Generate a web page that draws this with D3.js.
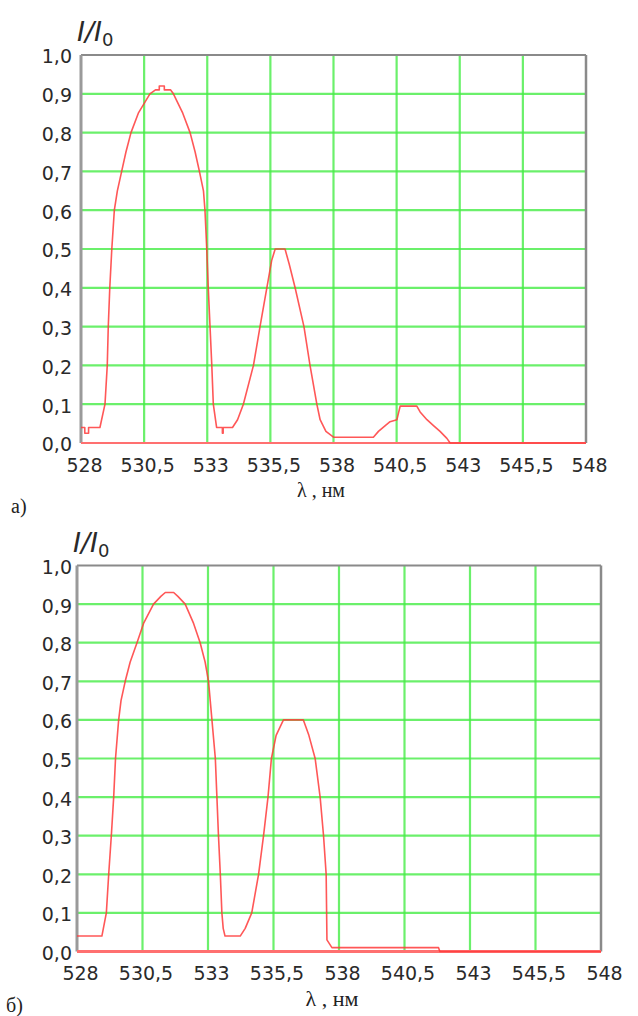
<!DOCTYPE html>
<html>
<head>
<meta charset="utf-8">
<script src="https://cdn.jsdelivr.net/npm/d3@7"></script>
<style>
  html, body { margin: 0; padding: 0; background: #fff; }
  svg { display: block; }
</style>
</head>
<body>
<svg id="canvas" width="638" height="1016"></svg>
<script>
// Spectres I/I0 en fonction de la longueur d'onde (deux cas : а et б)

// Graduations communes
let xTicks = [528, 530.5, 533, 535.5, 538, 540.5, 543, 545.5, 548]
let xTickLabels = ['528', '530,5', '533', '535,5', '538', '540,5', '543', '545,5', '548']
let yTicks = [0, 0.1, 0.2, 0.3, 0.4, 0.5, 0.6, 0.7, 0.8, 0.9, 1.0]
let yTickLabels = ['0,0', '0,1', '0,2', '0,3', '0,4', '0,5', '0,6', '0,7', '0,8', '0,9', '1,0']

// Courbe а)
let lambdaA = [528.0, 528.15, 528.15, 528.3, 528.3, 528.75, 528.95, 529.04, 529.08, 529.14,
  529.22, 529.32, 529.44, 529.61, 529.78, 529.98, 530.27, 530.73, 530.95, 531.1,
  531.1, 531.3, 531.3, 531.55, 531.66, 532.03, 532.32, 532.52, 532.69, 532.85,
  532.91, 532.98, 533.04, 533.11, 533.18, 533.24, 533.37, 533.6, 533.6, 533.63,
  533.63, 534.0, 534.2, 534.43, 534.83, 535.09, 535.36, 535.55, 535.69, 536.08,
  536.25, 536.48, 536.83, 537.07, 537.34, 537.47, 537.7, 538.0, 539.58, 539.78,
  540.05, 540.24, 540.51, 540.64, 541.3, 541.43, 541.7, 541.96, 542.22, 542.49,
  542.62, 548.0]
let intensityA = [0.04, 0.04, 0.025, 0.025, 0.04, 0.04, 0.1, 0.2, 0.3, 0.4,
  0.5, 0.6, 0.65, 0.7, 0.75, 0.8, 0.85, 0.9, 0.91, 0.91,
  0.92, 0.92, 0.91, 0.91, 0.9, 0.85, 0.8, 0.75, 0.7, 0.65,
  0.6, 0.5, 0.4, 0.3, 0.2, 0.1, 0.04, 0.04, 0.025, 0.025,
  0.04, 0.04, 0.06, 0.1, 0.2, 0.3, 0.4, 0.47, 0.5, 0.5,
  0.46, 0.4, 0.3, 0.2, 0.1, 0.06, 0.03, 0.015, 0.015, 0.03,
  0.045, 0.055, 0.06, 0.095, 0.095, 0.08, 0.06, 0.045, 0.03, 0.012,
  0.0, 0.0]

// Courbe б)
let lambdaB = [528.0, 528.95, 529.12, 529.21, 529.31, 529.4, 529.47, 529.59, 529.68, 529.84,
  530.03, 530.29, 530.54, 530.92, 531.2, 531.37, 531.69, 531.85, 532.13, 532.45,
  532.7, 532.89, 533.02, 533.15, 533.28, 533.34, 533.4, 533.47, 533.53, 533.58,
  533.65, 534.23, 534.42, 534.67, 534.93, 535.12, 535.29, 535.42, 535.6, 535.88,
  536.64, 536.85, 537.09, 537.28, 537.41, 537.51, 537.54, 537.73, 541.8, 541.85,
  548.0]
let intensityB = [0.04, 0.04, 0.1, 0.2, 0.3, 0.4, 0.5, 0.6, 0.65, 0.7,
  0.75, 0.8, 0.85, 0.9, 0.92, 0.93, 0.93, 0.92, 0.9, 0.85,
  0.8, 0.75, 0.7, 0.6, 0.5, 0.4, 0.3, 0.2, 0.1, 0.06,
  0.04, 0.04, 0.06, 0.1, 0.2, 0.3, 0.4, 0.5, 0.56, 0.6,
  0.6, 0.56, 0.5, 0.4, 0.3, 0.2, 0.03, 0.01, 0.01, 0.0,
  0.0]

let canvas = d3.select('#canvas')

// Dessiner un panneau
let dessinerPanneau = (p) => {
  let x = d3.scaleLinear().domain([528, 548]).range([p.left, p.right])
  let y = d3.scaleLinear().domain([0, 1]).range([p.bottom, p.top])
  let g = canvas.append('g')

  // grille verte
  g.selectAll('.gx').data(xTicks.slice(1, -1)).enter().append('line')
    .attr('x1', d => x(d)).attr('x2', d => x(d))
    .attr('y1', p.top).attr('y2', p.bottom)
    .attr('stroke', '#46ec46').attr('stroke-width', 2.2).attr('stroke-opacity', 0.8)
  g.selectAll('.gy').data(yTicks.slice(1, -1)).enter().append('line')
    .attr('x1', p.left).attr('x2', p.right)
    .attr('y1', d => y(d)).attr('y2', d => y(d))
    .attr('stroke', '#46ec46').attr('stroke-width', 2.2).attr('stroke-opacity', 0.8)

  // cadre gris
  g.append('line').attr('x1', p.left).attr('x2', p.right).attr('y1', p.top).attr('y2', p.top)
    .attr('stroke', '#8a8a8a').attr('stroke-width', 2)
  g.append('line').attr('x1', p.right).attr('x2', p.right).attr('y1', p.top).attr('y2', p.bottom)
    .attr('stroke', '#8a8a8a').attr('stroke-width', 2.5)
  g.append('line').attr('x1', p.left).attr('x2', p.left).attr('y1', p.top).attr('y2', p.bottom)
    .attr('stroke', '#9a9a9a').attr('stroke-width', 3)
  g.append('line').attr('x1', p.left).attr('x2', p.right).attr('y1', p.bottom).attr('y2', p.bottom)
    .attr('stroke', '#ff7070').attr('stroke-width', p.baseWidth)

  // courbe
  let points = p.lambda.map((l, i) => [l, p.intensity[i]])
  g.append('path')
    .datum(points)
    .attr('d', d3.line().x(d => x(d[0])).y(d => y(d[1])))
    .attr('fill', 'none')
    .attr('stroke', '#ff3a3a')
    .attr('stroke-opacity', 0.85)
    .attr('stroke-width', 1.6)
    .attr('stroke-linejoin', 'round')

  // axes (textes seulement)
  let axeY = g.append('g')
    .attr('transform', `translate(${p.left - p.yGap},0)`)
    .call(d3.axisLeft(y).tickValues(yTicks).tickFormat((d, i) => yTickLabels[i]).tickSize(0).tickPadding(0))
  axeY.select('.domain').remove()
  axeY.selectAll('text').attr('dy', '0.42em')

  let axeX = g.append('g')
    .attr('transform', `translate(0,${p.bottom})`)
    .call(d3.axisBottom(x).tickValues(xTicks).tickFormat((d, i) => xTickLabels[i]).tickSize(0).tickPadding(0))
  axeX.select('.domain').remove()
  axeX.selectAll('text').attr('y', p.xLabelY).attr('dy', 0).attr('dx', 3)

  canvas.selectAll('.tick text')
    .attr('font-family', '"DejaVu Sans", Verdana, sans-serif')
    .attr('font-size', 19)
    .attr('fill', '#2a2a2a')

  // titre de l'axe Y
  let titre = g.append('text')
    .attr('x', p.left - 4).attr('y', p.top - 14)
    .attr('font-family', '"DejaVu Sans", sans-serif')
    .attr('font-size', 27).attr('font-style', 'italic').attr('fill', '#2a2a2a')
    .text('I/I')
  titre.append('tspan').attr('dy', 5).attr('font-size', 18).attr('font-style', 'normal').text('0')

  // titre de l'axe X
  g.append('text')
    .attr('x', p.lambdaX).attr('y', p.lambdaY)
    .attr('text-anchor', 'middle')
    .attr('font-family', '"Liberation Serif", "Times New Roman", serif')
    .attr('font-size', p.lambdaSize).attr('fill', '#222')
    .text('λ , нм')

  // lettre du panneau
  g.append('text')
    .attr('x', p.letterX).attr('y', p.letterY)
    .attr('font-family', '"Liberation Serif", "Times New Roman", serif')
    .attr('font-size', 20).attr('fill', '#222')
    .text(p.letter)
}

dessinerPanneau({
  left: 81, right: 586, top: 55, bottom: 443, yGap: 9, xLabelY: 29, baseWidth: 2,
  lambda: lambdaA, intensity: intensityA,
  lambdaX: 321, lambdaY: 497, lambdaSize: 20,
  letter: 'а)', letterX: 11, letterY: 513
})

dessinerPanneau({
  left: 77, right: 601, top: 565.5, bottom: 951.5, yGap: 5, xLabelY: 28, baseWidth: 3,
  lambda: lambdaB, intensity: intensityB,
  lambdaX: 332, lambdaY: 1006, lambdaSize: 22,
  letter: 'б)', letterX: 6, letterY: 1012
})
</script>
</body>
</html>
